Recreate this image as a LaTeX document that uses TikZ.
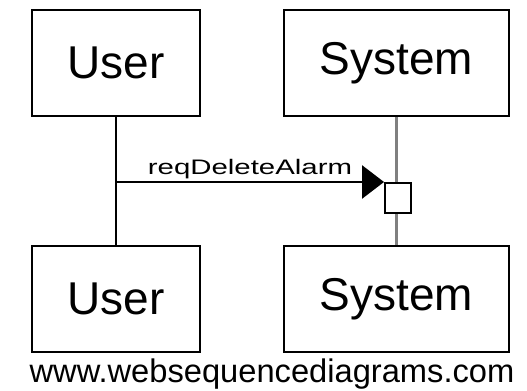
\documentclass[tikz,border=0pt]{standalone}
\usepackage{fontspec}
\setmainfont{Liberation Sans}
\usetikzlibrary{arrows.meta}

\tikzset{
  actor/.style={draw, line width=1.5pt, minimum height=79.5pt, inner sep=0pt, font=\fontsize{34.5}{40}\selectfont},
  lifeline/.style={line width=1.5pt},
  message/.style={line width=1.2pt, -{Triangle[length=16.5pt,width=25pt]}}
}

\begin{document}
\begin{tikzpicture}[x=0.75pt,y=0.75pt,yscale=-1,xscale=1]
\useasboundingbox (0,0) rectangle (527,391);

% Participants, top row
\node [actor, minimum width=126pt] (userTop) at (116,63) {User};
\node [actor, minimum width=168.75pt] (sysTop) at (396.5,63) {System};
% Participants, bottom row
\node [actor, minimum width=126pt] (userBot) at (116,299) {User};
\node [actor, minimum width=168.75pt] (sysBot) at (396.5,299) {System};

% Lifelines
\draw [lifeline] (userTop.south) -- (userBot.north);
\draw [lifeline, line width=2pt, gray] (sysTop.south) -- (sysBot.north);

% Activation
\node [draw, fill=white, line width=1.5pt, minimum width=19.5pt, minimum height=22.5pt, inner sep=0pt] (act) at (398,198) {};

% Message
\coordinate (msgStart) at (userTop.south |- act.north);
\draw [message] (msgStart) -- (act.north west)
  node [midway, above=1pt, inner sep=0.75pt, font=\fontsize{15.75}{18}\selectfont] (msgLabel) {\scalebox{1.4}[1]{reqDeleteAlarm}};

% Footer
\node [inner sep=0.75pt, font=\fontsize{24.5}{28}\selectfont] (footer) at (272,374) {www.websequencediagrams.com};

\end{tikzpicture}
\end{document}
